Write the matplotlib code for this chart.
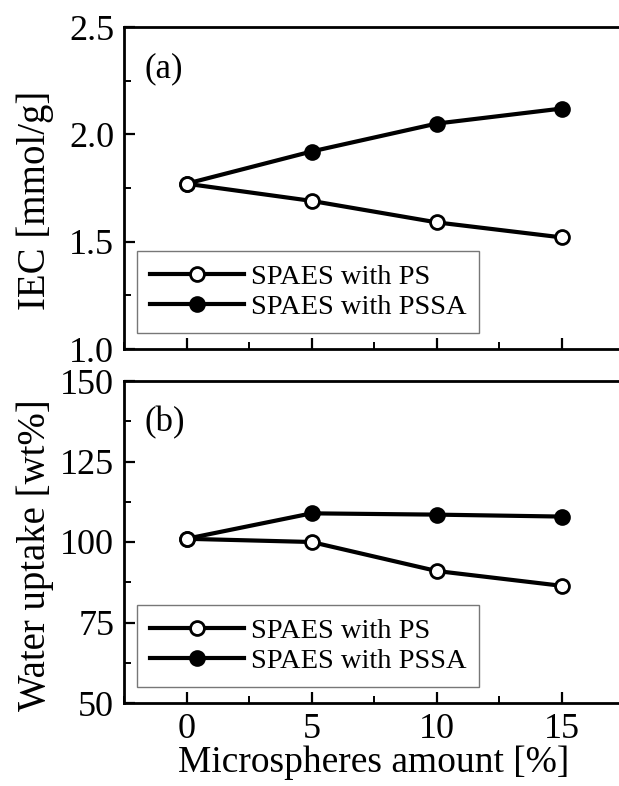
import matplotlib
matplotlib.use("Agg")
import matplotlib.pyplot as plt
from matplotlib.ticker import MultipleLocator, FormatStrFormatter

plt.rcParams['font.family'] = ['Liberation Serif', 'DejaVu Serif']

amount = [0, 5, 10, 15]
iec_ps = [1.77, 1.69, 1.59, 1.52]
iec_pssa = [1.77, 1.92, 2.05, 2.12]
wu_ps = [101.0, 100.0, 91.0, 86.4]
wu_pssa = [101.0, 108.9, 108.5, 107.9]
x_ticks = [0, 5, 10, 15]
labels = ["SPAES with PS", "SPAES with PSSA"]

W, H = 619, 786
fig = plt.figure(figsize=(W / 100, H / 100), dpi=100)

left = 124 / W
right = 624 / W
ax1 = fig.add_axes([left, 1 - 349 / H, right - left, (349 - 27) / H])
ax2 = fig.add_axes([left, 1 - 703 / H, right - left, (703 - 381) / H])

def style(ax):
    for s in ax.spines.values():
        s.set_linewidth(2.0)
    ax.tick_params(which='major', direction='in', length=8, width=1.6,
                   labelsize=26, pad=7, top=False, right=False)
    ax.tick_params(which='minor', direction='in', length=5, width=1.4,
                   top=False, right=False)
    ax.set_xlim(-2.5, 17.5)
    ax.xaxis.set_major_locator(MultipleLocator(5))
    ax.xaxis.set_minor_locator(MultipleLocator(2.5))

def plot_series(ax, y1, y2):
    ax.plot(amount, y1, '-o', color='black', lw=3.0, ms=10, mfc='white',
            mec='black', mew=2.0, label=labels[0], zorder=3)
    ax.plot(amount, y2, '-o', color='black', lw=3.0, ms=10, mfc='black',
            mec='black', mew=2.0, label=labels[1], zorder=2)
    leg = ax.legend(loc='lower left', bbox_to_anchor=(0.026, 0.05),
                    fontsize=20.5, frameon=True, fancybox=False, handlelength=3.3,
                    handletextpad=0.25, borderpad=0.45, labelspacing=0.15,
                    borderaxespad=0)
    leg.get_frame().set_edgecolor('#555555')
    leg.get_frame().set_linewidth(1.0)

style(ax1)
plot_series(ax1, iec_ps, iec_pssa)
ax1.set_ylim(1.0, 2.5)
ax1.yaxis.set_major_locator(MultipleLocator(0.5))
ax1.yaxis.set_minor_locator(MultipleLocator(0.25))
ax1.yaxis.set_major_formatter(FormatStrFormatter('%.1f'))
ax1.set_xticklabels([])
ax1.set_ylabel('IEC [mmol/g]', fontsize=28)
ax1.yaxis.set_label_coords(-0.14, 0.463)
ax1.text(0.04, 0.87, '(a)', transform=ax1.transAxes, fontsize=25, va='center')

style(ax2)
plot_series(ax2, wu_ps, wu_pssa)
ax2.set_ylim(50, 150)
ax2.yaxis.set_major_locator(MultipleLocator(25))
ax2.yaxis.set_minor_locator(MultipleLocator(12.5))
ax2.set_xticks(x_ticks)
ax2.set_xlabel('Microspheres amount [%]', fontsize=27, labelpad=0)
ax2.set_ylabel('Water uptake [wt%]', fontsize=28)
ax2.yaxis.set_label_coords(-0.14, 0.46)
ax2.text(0.04, 0.87, '(b)', transform=ax2.transAxes, fontsize=25, va='center')

fig.savefig('out.png', dpi=100)
